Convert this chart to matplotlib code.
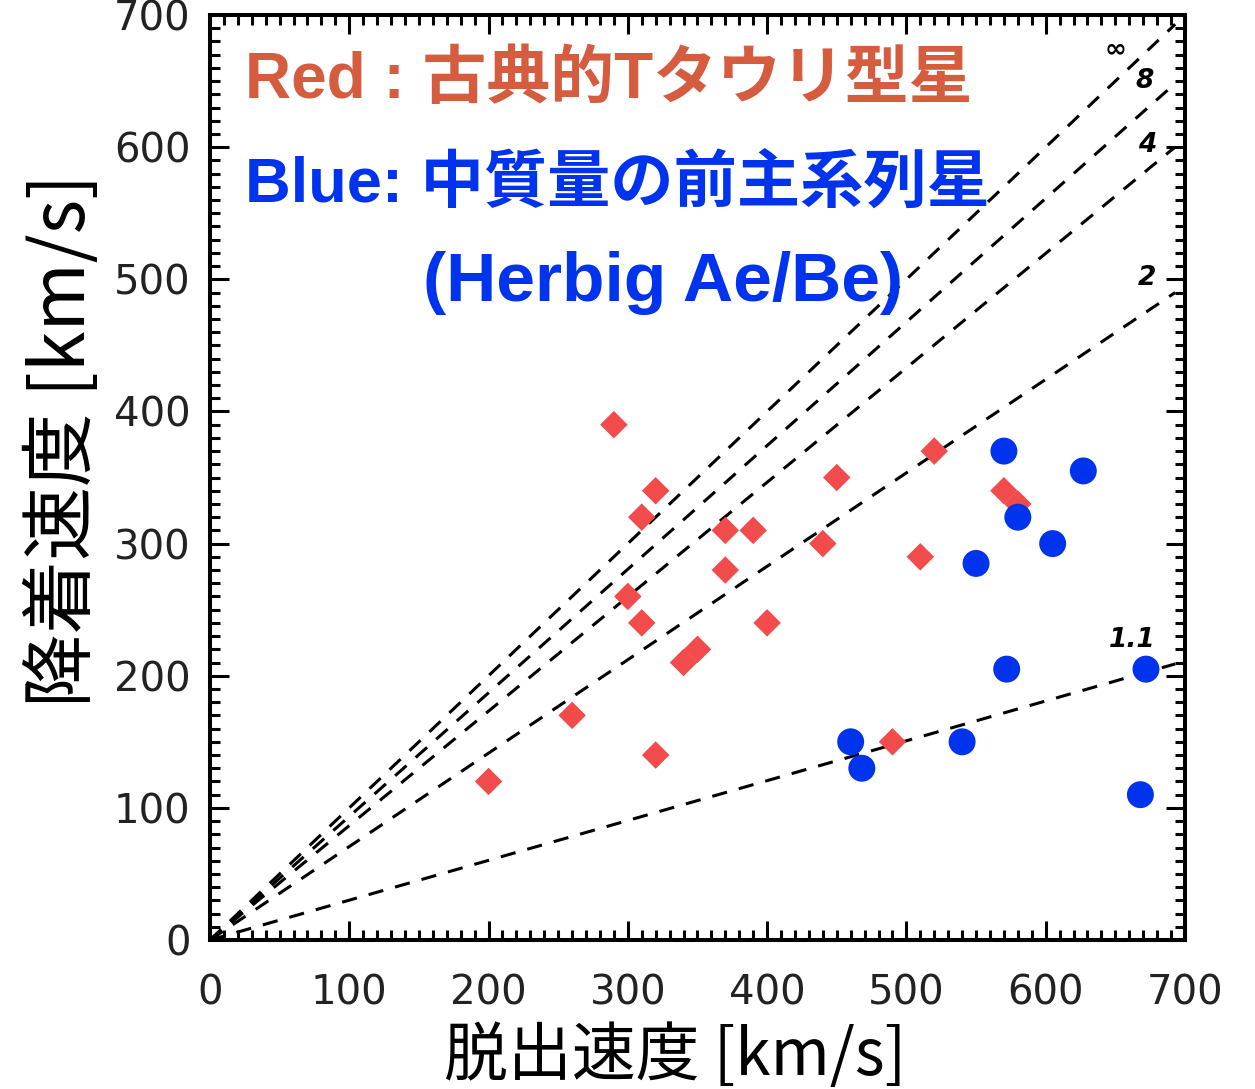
import numpy as np
import matplotlib.pyplot as plt
from matplotlib.ticker import MultipleLocator

plt.rcParams['font.family'] = ['Noto Sans CJK JP', 'DejaVu Sans']

# 古典的Tタウリ型星 (赤) : 脱出速度, 降着速度 [km/s]
ttau_vesc = [200, 260, 290, 300, 310, 310, 320, 320, 340, 350, 370, 370,
             390, 400, 440, 450, 490, 510, 520, 570, 580]
ttau_vacc = [120, 170, 390, 260, 320, 240, 340, 140, 210, 220, 310, 280,
             310, 240, 300, 350, 150, 290, 370, 340, 330]

# Herbig Ae/Be (青)
haebe_vesc = [460, 468, 540, 550, 570, 572, 580, 605, 627, 672, 668]
haebe_vacc = [150, 130, 150, 285, 370, 205, 320, 300, 355, 205, 110]

# 磁気圏の打ち切り半径 R_T (R_*単位) ごとの自由落下速度の線
rt_labels = ['∞', '8', '4', '2', '1.1']
rt_values = [np.inf, 8, 4, 2, 1.1]
label_pos = [(650, 674), (671, 650), (673, 602), (673, 501), (662, 227)]

fig = plt.figure(figsize=(12.55, 10.89), dpi=100)
ax = fig.add_axes([0.1673, 0.1368, 0.7769, 0.8494])

vx = np.array([0, 693])
for rt, lab, (lx, ly) in zip(rt_values, rt_labels, label_pos):
    slope = np.sqrt(1 - 1 / rt)
    ax.plot(vx, slope * vx, color='black', lw=2.2, linestyle=(0, (5, 4)), zorder=2)
    ax.text(lx, ly, lab, fontsize=19, style='italic', fontweight='bold',
            ha='center', va='center', family=['DejaVu Sans'], zorder=4)

ax.scatter(ttau_vesc, ttau_vacc, marker='D', s=14**2, color='#F24B4B',
           edgecolors='none', zorder=3)
ax.scatter(haebe_vesc, haebe_vacc, marker='o', s=19.4**2, color='#0033EE',
           edgecolors='none', zorder=3)

# 凡例代わりの見出し (欧文は Liberation Sans, 和文は Noto)
head_font = ['Liberation Sans', 'Noto Sans CJK JP']
ax.text(25, 650, 'Red : 古典的Tタウリ型星', color='#D65C40', fontsize=46,
        fontweight='bold', ha='left', va='center', family=head_font)
ax.text(25, 572, 'Blue: 中質量の前主系列星', color='#0033EE', fontsize=45.5,
        fontweight='bold', ha='left', va='center', family=head_font)
ax.text(325, 497, '(Herbig Ae/Be)', color='#0033EE', fontsize=50,
        fontweight='bold', ha='center', va='center', family=head_font)

ax.set_xlim(0, 700)
ax.set_ylim(0, 700)
ax.xaxis.set_major_locator(MultipleLocator(100))
ax.yaxis.set_major_locator(MultipleLocator(100))
ax.xaxis.set_minor_locator(MultipleLocator(10))
ax.yaxis.set_minor_locator(MultipleLocator(10))
ax.tick_params(which='both', direction='in', top=True, right=True, width=2.2,
               color='black')
ax.tick_params(which='major', length=14)
ax.tick_params(which='minor', length=7)
ax.tick_params(axis='x', which='major', pad=24, labelsize=29)
ax.tick_params(axis='y', which='major', pad=14, labelsize=29)
for lbl in ax.get_xticklabels() + ax.get_yticklabels():
    lbl.set_family(['DejaVu Sans'])
    lbl.set_color('#222222')
for sp in ax.spines.values():
    sp.set_linewidth(2.9)

ax.set_xlabel('脱出速度 [km/s]', fontsize=46)
ax.set_ylabel('降着速度 [km/s]', fontsize=53)
ax.xaxis.set_label_coords(0.477, -0.09)
ax.yaxis.set_label_coords(-0.111, 0.54)

fig.savefig('out.png', dpi=100)
